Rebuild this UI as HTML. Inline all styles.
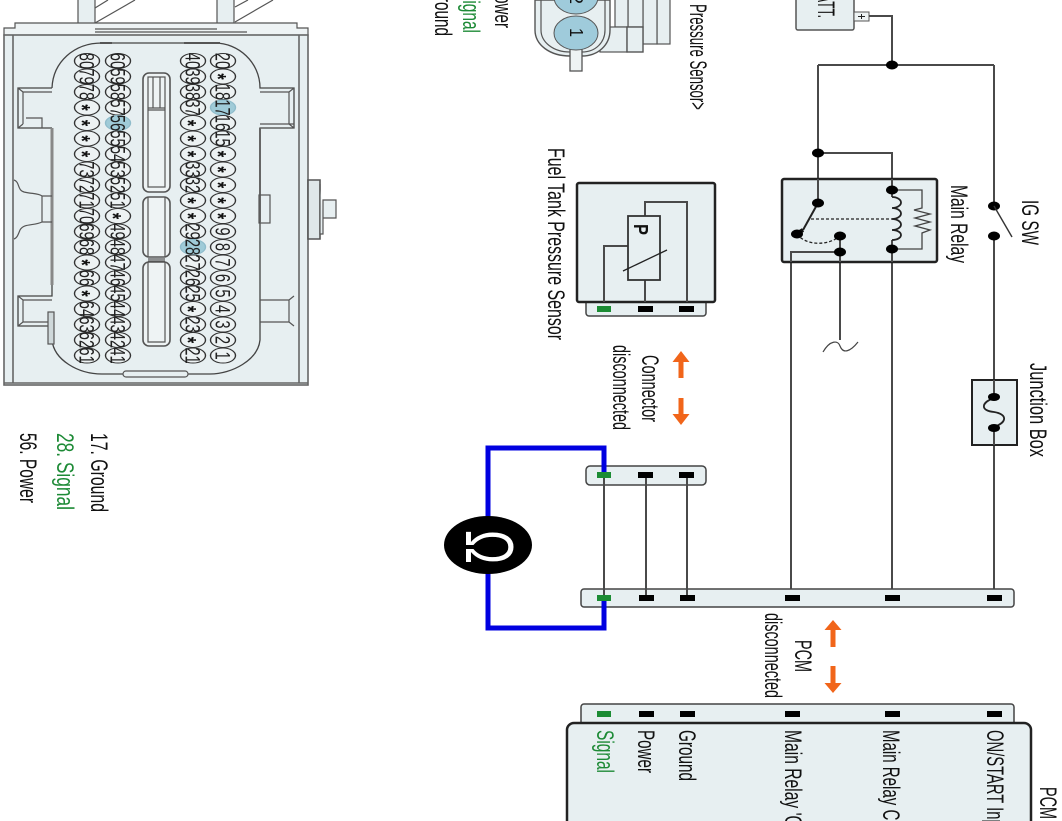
<!DOCTYPE html>
<html><head><meta charset="utf-8"><style>
html,body{margin:0;padding:0;background:#fff;width:1062px;height:821px;overflow:hidden}
svg{display:block;filter:blur(.35px)}
text{font-family:"Liberation Sans",sans-serif;fill:#111}
.l{font-size:24px}
.g{fill:#1d8a36}
.pins text{font-size:21px;text-anchor:middle;fill:#222}
.pins text.a{font-size:23px;font-weight:bold;fill:#111}
.w{fill:none;stroke:#4a4a4a;stroke-width:2}
.k{fill:none;stroke:#555;stroke-width:1.2}
.f{fill:#e7eff1;stroke:#444;stroke-width:1.5}
.b{fill:#e7eff1;stroke:#222;stroke-width:2.5}
.pk{fill:#000}.pg{fill:#1c8c34}
.o{fill:#f1651a}
</style></head><body>
<svg width="1062" height="821" viewBox="0 0 1062 821" xmlns="http://www.w3.org/2000/svg">
<defs>
<ellipse id="p" rx="10.7" ry="12.5" fill="#edf2f3" stroke="#333" stroke-width="1.4"/>
<ellipse id="h" rx="10.7" ry="12.5" fill="#9fcbd8" stroke="#8fbccb" stroke-width="1.4"/>
</defs>

<!-- left connector -->
<g class="k">
<rect x="78" y="-2" width="17" height="37" fill="#e7eff1"/>
<rect x="217" y="-2" width="17" height="37" fill="#e7eff1"/>
<path d="M95 23L135 0M95 8L108 0M235 22L273 0M235 7L248 0"/>
<path d="M4 36V28H15V23H297V28H308V36M95 29H217M95 32H247" fill="#eef3f4"/>
<rect x="4" y="35" width="304" height="350" fill="#e7eff1" stroke="#666" stroke-width="1.6"/>
<path d="M13 35V383M299 35V383M4 383H308" stroke="#666" stroke-width="1.6"/>
<path d="M308 180H320V239H308Z" fill="#dfe7e9" stroke-width="1.6"/>
<path d="M320 184V234H323V200H336V218H323" fill="#e7eff1"/>
<path d="M52 88C53 62 74 43 102 43H215C238 43 260 62 260 88H294V128H260V340C258 360 232 374 210 374H102C78 374 54 360 52 340V326H18V296H52V284M52 128H18V88H52" fill="#e7eff1" stroke="#444" stroke-width="1.3"/>
<path d="M52 128V285" stroke="#888" stroke-width="3"/>
<path d="M260 128V222" stroke="#666" stroke-width="2"/>
<path d="M23 92H52M23 92V124M18 128L23 124M18 88L23 92M26 118H42V128"/>
<path d="M289 92H260M289 92V124M294 124H260M294 88L289 92M294 128L289 124"/>
<path d="M23 300V322M23 300H52M23 322H52M18 296L23 300M18 326L23 322M289 300V322M289 300H260M289 322H260M294 296L289 300M294 326L289 322"/>
<rect x="48" y="312" width="6" height="32" fill="#cfd8da"/>
<rect x="259" y="195" width="11" height="28"/>
<path d="M14 180C20 182 17 190 24 192C32 194 38 193 42 196H52M42 196V222M52 222H42C34 226 24 223 20 230C18 235 17 238 14 239"/>
<rect x="123" y="371" width="65" height="6" rx="3" fill="#e7eff1"/>
<path d="M100 43H112M184 43H220" stroke-width="2"/>
<rect x="143" y="73" width="27" height="119" rx="6" fill="#eef3f4" stroke-width="1.6"/>
<rect x="148" y="77" width="17" height="110" fill="none"/>
<path d="M148 110H165M148 108H165M153 77V108M160 77V108"/>
<rect x="143" y="197" width="27" height="60" rx="6" fill="#eef3f4" stroke-width="1.6"/>
<path d="M148 197V257M165 197V257M148 259H165M148 261H165"/>
<rect x="143" y="262" width="27" height="84" rx="6" fill="#eef3f4" stroke-width="1.6"/>
<path d="M148 262V342H165V262"/>
</g>

<g class="pins" transform="translate(223,0) rotate(90) scale(.7,1)">
<use href="#p" x="87.1"/><text x="87.1" y="7.5">20</text>
<use href="#p" x="109.3"/><text class="a" x="109.3" y="13">*</text>
<use href="#p" x="131.4"/><text x="131.4" y="7.5">18</text>
<use href="#h" x="153.6"/><text x="153.6" y="7.5">17</text>
<use href="#p" x="175.7"/><text x="175.7" y="7.5">16</text>
<use href="#p" x="197.9"/><text x="197.9" y="7.5">15</text>
<use href="#p" x="220"/><text class="a" x="220" y="13">*</text>
<use href="#p" x="242.1"/><text class="a" x="242.1" y="13">*</text>
<use href="#p" x="264.3"/><text class="a" x="264.3" y="13">*</text>
<use href="#p" x="286.4"/><text class="a" x="286.4" y="13">*</text>
<use href="#p" x="308.6"/><text class="a" x="308.6" y="13">*</text>
<use href="#p" x="330.7"/><text x="330.7" y="7.5">9</text>
<use href="#p" x="352.9"/><text x="352.9" y="7.5">8</text>
<use href="#p" x="375"/><text x="375" y="7.5">7</text>
<use href="#p" x="397.1"/><text x="397.1" y="7.5">6</text>
<use href="#p" x="419.3"/><text x="419.3" y="7.5">5</text>
<use href="#p" x="441.4"/><text x="441.4" y="7.5">4</text>
<use href="#p" x="463.6"/><text x="463.6" y="7.5">3</text>
<use href="#p" x="485.7"/><text x="485.7" y="7.5">2</text>
<use href="#p" x="507.9"/><text x="507.9" y="7.5">1</text>
</g>
<g class="pins" transform="translate(193,0) rotate(90) scale(.7,1)">
<use href="#p" x="87.1"/><text x="87.1" y="7.5">40</text>
<use href="#p" x="109.3"/><text x="109.3" y="7.5">39</text>
<use href="#p" x="131.4"/><text x="131.4" y="7.5">38</text>
<use href="#p" x="153.6"/><text x="153.6" y="7.5">37</text>
<use href="#p" x="175.7"/><text class="a" x="175.7" y="13">*</text>
<use href="#p" x="197.9"/><text class="a" x="197.9" y="13">*</text>
<use href="#p" x="220"/><text class="a" x="220" y="13">*</text>
<use href="#p" x="242.1"/><text x="242.1" y="7.5">33</text>
<use href="#p" x="264.3"/><text x="264.3" y="7.5">32</text>
<use href="#p" x="286.4"/><text class="a" x="286.4" y="13">*</text>
<use href="#p" x="308.6"/><text class="a" x="308.6" y="13">*</text>
<use href="#p" x="330.7"/><text x="330.7" y="7.5">29</text>
<use href="#h" x="352.9"/><text x="352.9" y="7.5">28</text>
<use href="#p" x="375"/><text x="375" y="7.5">27</text>
<use href="#p" x="397.1"/><text x="397.1" y="7.5">26</text>
<use href="#p" x="419.3"/><text x="419.3" y="7.5">25</text>
<use href="#p" x="441.4"/><text class="a" x="441.4" y="13">*</text>
<use href="#p" x="463.6"/><text x="463.6" y="7.5">23</text>
<use href="#p" x="485.7"/><text class="a" x="485.7" y="13">*</text>
<use href="#p" x="507.9"/><text x="507.9" y="7.5">21</text>
</g>
<g class="pins" transform="translate(118,0) rotate(90) scale(.7,1)">
<use href="#p" x="87.1"/><text x="87.1" y="7.5">60</text>
<use href="#p" x="109.3"/><text x="109.3" y="7.5">59</text>
<use href="#p" x="131.4"/><text x="131.4" y="7.5">58</text>
<use href="#p" x="153.6"/><text x="153.6" y="7.5">57</text>
<use href="#h" x="175.7"/><text x="175.7" y="7.5">56</text>
<use href="#p" x="197.9"/><text x="197.9" y="7.5">55</text>
<use href="#p" x="220"/><text x="220" y="7.5">54</text>
<use href="#p" x="242.1"/><text x="242.1" y="7.5">53</text>
<use href="#p" x="264.3"/><text x="264.3" y="7.5">52</text>
<use href="#p" x="286.4"/><text x="286.4" y="7.5">51</text>
<use href="#p" x="308.6"/><text class="a" x="308.6" y="13">*</text>
<use href="#p" x="330.7"/><text x="330.7" y="7.5">49</text>
<use href="#p" x="352.9"/><text x="352.9" y="7.5">48</text>
<use href="#p" x="375"/><text x="375" y="7.5">47</text>
<use href="#p" x="397.1"/><text x="397.1" y="7.5">46</text>
<use href="#p" x="419.3"/><text x="419.3" y="7.5">45</text>
<use href="#p" x="441.4"/><text x="441.4" y="7.5">44</text>
<use href="#p" x="463.6"/><text x="463.6" y="7.5">43</text>
<use href="#p" x="485.7"/><text x="485.7" y="7.5">42</text>
<use href="#p" x="507.9"/><text x="507.9" y="7.5">41</text>
</g>
<g class="pins" transform="translate(87,0) rotate(90) scale(.7,1)">
<use href="#p" x="87.1"/><text x="87.1" y="7.5">80</text>
<use href="#p" x="109.3"/><text x="109.3" y="7.5">79</text>
<use href="#p" x="131.4"/><text x="131.4" y="7.5">78</text>
<use href="#p" x="153.6"/><text class="a" x="153.6" y="13">*</text>
<use href="#p" x="175.7"/><text class="a" x="175.7" y="13">*</text>
<use href="#p" x="197.9"/><text class="a" x="197.9" y="13">*</text>
<use href="#p" x="220"/><text class="a" x="220" y="13">*</text>
<use href="#p" x="242.1"/><text x="242.1" y="7.5">73</text>
<use href="#p" x="264.3"/><text x="264.3" y="7.5">72</text>
<use href="#p" x="286.4"/><text x="286.4" y="7.5">71</text>
<use href="#p" x="308.6"/><text x="308.6" y="7.5">70</text>
<use href="#p" x="330.7"/><text x="330.7" y="7.5">69</text>
<use href="#p" x="352.9"/><text x="352.9" y="7.5">68</text>
<use href="#p" x="375"/><text class="a" x="375" y="13">*</text>
<use href="#p" x="397.1"/><text x="397.1" y="7.5">66</text>
<use href="#p" x="419.3"/><text class="a" x="419.3" y="13">*</text>
<use href="#p" x="441.4"/><text x="441.4" y="7.5">64</text>
<use href="#p" x="463.6"/><text x="463.6" y="7.5">63</text>
<use href="#p" x="485.7"/><text x="485.7" y="7.5">62</text>
<use href="#p" x="507.9"/><text x="507.9" y="7.5">61</text>
</g>

<!-- legend -->
<text class="l" transform="translate(91,433) rotate(90)" textLength="79" lengthAdjust="spacingAndGlyphs">17. Ground</text>
<text class="l g" transform="translate(57,433) rotate(90)" textLength="77" lengthAdjust="spacingAndGlyphs">28. Signal</text>
<text class="l" transform="translate(20,433) rotate(90)" textLength="70" lengthAdjust="spacingAndGlyphs">56. Power</text>

<text class="l" transform="translate(435,-15) rotate(90)" textLength="51" lengthAdjust="spacingAndGlyphs">Ground</text>
<text class="l g" transform="translate(463,-10) rotate(90)" textLength="43" lengthAdjust="spacingAndGlyphs">Signal</text>
<text class="l" transform="translate(495,-15) rotate(90)" textLength="43" lengthAdjust="spacingAndGlyphs">Power</text>

<!-- pressure sensor connector -->
<g class="k">
<rect x="657" y="-2" width="13" height="46" fill="#e7eff1"/>
<rect x="643" y="-2" width="14" height="46" fill="#e7eff1"/>
<rect x="628" y="-2" width="15" height="29" fill="#e7eff1"/>
<rect x="615" y="-2" width="13" height="29" fill="#e7eff1"/>
<rect x="600" y="27" width="27" height="25" fill="#e7eff1"/>
<rect x="627" y="27" width="16" height="25" fill="#e7eff1" stroke-width="1.4"/>
<path d="M535 0V30C535 45 550 56 570 56H582C598 56 610 45 610 30V0Z" fill="#e7eff1" stroke-width="1.4"/>
<path d="M541 0V30C541 42 553 52 570 52H582C596 52 605 42 605 30V0"/>
<rect x="570" y="47" width="12" height="24" fill="#eef3f4" stroke-width="1.3"/>
</g>
<ellipse cx="576" cy="33" rx="22" ry="17" fill="#9fcbdb" stroke="#555"/>
<ellipse cx="576" cy="-3" rx="22" ry="17" fill="#9fcbdb" stroke="#555"/>
<text class="l" style="font-size:18px" transform="translate(570,28) rotate(90)" textLength="9" lengthAdjust="spacingAndGlyphs">1</text>
<text class="l" style="font-size:18px" transform="translate(570,-6) rotate(90)" textLength="10" lengthAdjust="spacingAndGlyphs">2</text>
<text class="l" transform="translate(690,4) rotate(90)" textLength="106" lengthAdjust="spacingAndGlyphs">Pressure Sensor&gt;</text>

<!-- battery -->
<rect x="796" y="-5" width="58" height="35" rx="2" fill="#e7eff1" stroke="#555" stroke-width="1.5"/>
<rect x="854" y="12" width="15" height="9" fill="#eef3f4" stroke="#555"/>
<path d="M858 16.500H865M861.500 14V19" stroke="#222" stroke-width="1"/>
<text class="l" transform="translate(818,-14) rotate(90)" textLength="32" lengthAdjust="spacingAndGlyphs">BATT.</text>

<!-- wiring top -->
<path class="w" d="M869 16H892V65M818 65H994M818 65V203M818 153H892V190M994 65V206M994 236V598"/>
<path class="w" d="M791 598V252H840V340M892 249V598"/>
<path d="M823 352C830 340 838 340 840 346C843 354 850 352 858 342" fill="none" stroke="#444" stroke-width="1.2"/>

<!-- relay -->
<rect x="782" y="179" width="155" height="83" rx="2" class="b" stroke="#222"/>
<path class="w" d="M818 179V203M892 179V190M892 249V262M791 262V252H840M840 252V262"/>
<path d="M892 190V197M892 240V249" class="w"/>
<path d="M892 197a9 5.500 0 0 1 0 11a9 5.500 0 0 1 0 11a9 5.500 0 0 1 0 11a9 5 0 0 1 0 10" fill="none" stroke="#222" stroke-width="1.8"/>
<path d="M892 190H922V208L914 210L930 214L915 218L930 222L915 226L930 230L922 233V249H892" fill="none" stroke="#444" stroke-width="1.3"/>
<path d="M818 203L803 230" stroke="#222" stroke-width="2"/>
<path d="M803 230L798 233" stroke="#111" stroke-width="4"/>
<path d="M811 219H892" stroke="#222" stroke-width="1.3" stroke-dasharray="3 2" fill="none"/>
<path d="M797 234C806 246 828 246 840 236" stroke="#222" stroke-width="1.3" stroke-dasharray="3 2" fill="none"/>
<path d="M840 236V252" class="w"/>
<g fill="#000">
<ellipse cx="892" cy="65" rx="6" ry="4.500"/>
<ellipse cx="818" cy="153" rx="6" ry="4.500"/>
<ellipse cx="892" cy="190" rx="6" ry="4.500"/>
<ellipse cx="818" cy="203" rx="6" ry="4.500"/>
<ellipse cx="797" cy="234" rx="6" ry="4.500"/>
<ellipse cx="840" cy="236" rx="6" ry="4.500"/>
<ellipse cx="840" cy="252" rx="6" ry="4.500"/>
<ellipse cx="892" cy="249" rx="6" ry="4.500"/>
<ellipse cx="994" cy="206" rx="6" ry="4.500"/>
<ellipse cx="994" cy="236" rx="6" ry="4.500"/>
</g>
<path d="M994 206L1012 237" stroke="#333" stroke-width="1.4"/>
<text class="l" transform="translate(1022,200) rotate(90)" textLength="45" lengthAdjust="spacingAndGlyphs">IG SW</text>
<text class="l" transform="translate(951,185) rotate(90)" textLength="78" lengthAdjust="spacingAndGlyphs">Main Relay</text>

<!-- junction box -->
<rect x="972" y="380" width="45" height="65" fill="#e7eff1" stroke="#222" stroke-width="2"/>
<path class="w" d="M994 380V398M994 427V445"/>
<path d="M994 398C980 403 981 411 994 412C1007 414 1008 422 994 427" fill="none" stroke="#222" stroke-width="1.8"/>
<ellipse cx="994" cy="397" rx="6" ry="4"/>
<ellipse cx="994" cy="428" rx="6" ry="4"/>
<text class="l" transform="translate(1030,363) rotate(90)" textLength="94" lengthAdjust="spacingAndGlyphs">Junction Box</text>

<!-- fuel tank sensor -->
<rect x="586" y="295" width="120" height="21" rx="3" class="f"/>
<rect x="577" y="183" width="138" height="119" rx="2" class="b"/>
<path class="w" d="M604 302V246H628M645 302V280M645 216V202H687V302"/>
<rect x="628" y="216" width="32" height="64" fill="#e7eff1" stroke="#333" stroke-width="1.8"/>
<path d="M623 271L667 250" stroke="#222" stroke-width="1.3"/>
<text style="font-size:20px;font-weight:bold" transform="translate(634,224) rotate(90)" textLength="11" lengthAdjust="spacingAndGlyphs">P</text>
<rect class="pg" x="597" y="306" width="14" height="6"/>
<rect class="pk" x="638" y="306" width="15" height="6"/>
<rect class="pk" x="679" y="306" width="15" height="6"/>
<text class="l" transform="translate(548,148) rotate(90)" textLength="192" lengthAdjust="spacingAndGlyphs">Fuel Tank Pressure Sensor</text>

<!-- arrows connector -->
<path class="o" d="M681 351L689.500 362H683.500V378H678.500V362H672.500Z"/>
<path class="o" d="M681 425L689.500 414H683.500V398H678.500V414H672.500Z"/>
<text class="l" transform="translate(642,355) rotate(90)" textLength="67" lengthAdjust="spacingAndGlyphs">Connector</text>
<text class="l" transform="translate(613,345) rotate(90)" textLength="85" lengthAdjust="spacingAndGlyphs">disconnected</text>

<!-- middle connectors -->
<rect x="586" y="466" width="120" height="19" rx="4" class="f"/>
<rect x="581" y="589" width="433" height="18" rx="3" class="f"/>
<path class="w" d="M604 475V598M646 475V598M687 475V598"/>
<path d="M604 472V448H488V628H604V600" fill="none" stroke="#0000e0" stroke-width="5"/>
<rect class="pg" x="597" y="472" width="14" height="6"/>
<rect class="pk" x="638" y="472" width="15" height="6"/>
<rect class="pk" x="679" y="472" width="15" height="6"/>
<rect class="pg" x="597" y="595" width="14" height="6"/>
<rect class="pk" x="639" y="595" width="15" height="6"/>
<rect class="pk" x="680" y="595" width="15" height="6"/>
<rect class="pk" x="785" y="595" width="15" height="6"/>
<rect class="pk" x="885" y="595" width="15" height="6"/>
<rect class="pk" x="987" y="595" width="15" height="6"/>

<!-- ohm meter -->
<ellipse cx="488" cy="545" rx="44" ry="29" fill="#000"/>
<text transform="translate(466,547) rotate(90)" text-anchor="middle" textLength="34" lengthAdjust="spacingAndGlyphs" style="font-size:68px;fill:#fff">Ω</text>

<!-- PCM arrows -->
<path class="o" d="M833 620L841.500 630H835.500V647H830.500V630H824.500Z"/>
<path class="o" d="M833 693L841.500 683H835.500V666H830.500V683H824.500Z"/>
<text class="l" transform="translate(795,640) rotate(90)" textLength="32" lengthAdjust="spacingAndGlyphs">PCM</text>
<text class="l" transform="translate(765,613) rotate(90)" textLength="85" lengthAdjust="spacingAndGlyphs">disconnected</text>

<!-- PCM -->
<rect x="581" y="704" width="433" height="30" rx="3" class="f"/>
<rect x="567" y="723" width="464" height="120" rx="7" class="b"/>
<rect class="pg" x="597" y="711" width="14" height="6"/>
<rect class="pk" x="639" y="711" width="15" height="6"/>
<rect class="pk" x="680" y="711" width="15" height="6"/>
<rect class="pk" x="785" y="711" width="15" height="6"/>
<rect class="pk" x="885" y="711" width="15" height="6"/>
<rect class="pk" x="987" y="711" width="15" height="6"/>
<text class="l g" transform="translate(597,730) rotate(90)" textLength="43" lengthAdjust="spacingAndGlyphs">Signal</text>
<text class="l" transform="translate(638,730) rotate(90)" textLength="43" lengthAdjust="spacingAndGlyphs">Power</text>
<text class="l" transform="translate(679,730) rotate(90)" textLength="51" lengthAdjust="spacingAndGlyphs">Ground</text>
<text class="l" transform="translate(785,730) rotate(90)" textLength="112" lengthAdjust="spacingAndGlyphs">Main Relay 'ON'</text>
<text class="l" transform="translate(883,730) rotate(90)" textLength="128" lengthAdjust="spacingAndGlyphs">Main Relay Control</text>
<text class="l" transform="translate(987,730) rotate(90)" textLength="110" lengthAdjust="spacingAndGlyphs">ON/START Input</text>
<text class="l" transform="translate(1040,787) rotate(90)" textLength="32" lengthAdjust="spacingAndGlyphs">PCM</text>
</svg>
</body></html>
